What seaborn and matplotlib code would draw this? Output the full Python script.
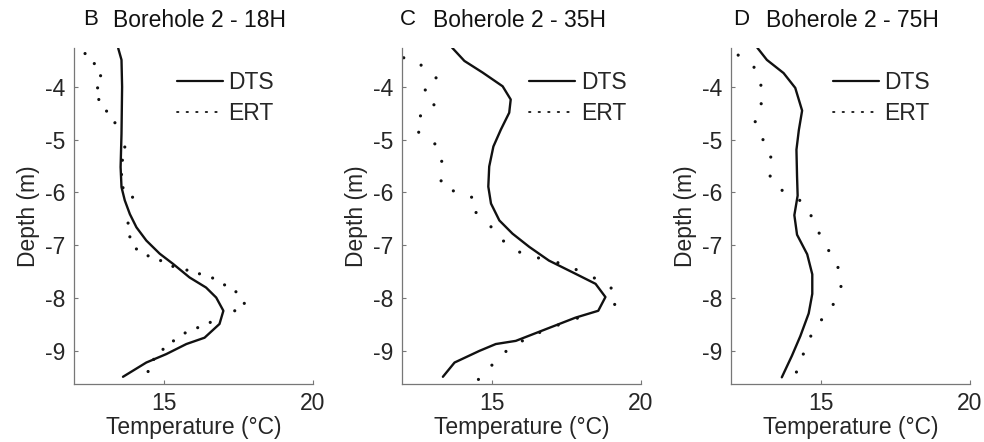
import numpy as np
import pandas as pd
import seaborn as sns
import matplotlib.pyplot as plt
from matplotlib.lines import Line2D

# ---- data (temperature in degC, depth in m) ----
titles = ["Borehole 2 - 18H", "Boherole 2 - 35H", "Boherole 2 - 75H"]
letters = ["B", "C", "D"]

dts_b_temp = [13.48, 13.59, 13.61, 13.59, 13.56, 13.59, 13.70, 13.87, 14.09, 14.42, 14.87,
              15.31, 15.87, 16.42, 16.76, 17.00, 16.87, 16.37, 15.76, 15.09, 14.42, 13.64]
dts_b_depth = [-3.27, -3.49, -4.00, -4.89, -5.52, -5.90, -6.15, -6.41, -6.66, -6.91, -7.16,
               -7.35, -7.61, -7.80, -7.99, -8.24, -8.49, -8.75, -8.87, -9.06, -9.22, -9.49]
ert_b_temp = [12.37, 12.68, 12.89, 12.79, 12.83, 13.09, 13.37, 13.70, 13.62, 13.59, 13.64,
              13.96, 13.81, 13.87, 14.09, 14.48, 14.90, 15.31, 15.78, 16.20, 16.64, 17.04,
              17.42, 17.70, 17.38, 16.56, 16.14, 15.72, 15.33, 14.98, 14.67, 14.48]
ert_b_depth = [-3.37, -3.56, -3.79, -4.02, -4.24, -4.46, -4.68, -5.14, -5.39, -5.66, -5.91,
               -6.09, -6.58, -6.84, -7.07, -7.20, -7.29, -7.40, -7.47, -7.54, -7.62, -7.75,
               -7.88, -8.10, -8.24, -8.46, -8.56, -8.66, -8.81, -8.97, -9.16, -9.39]

dts_c_temp = [13.68, 14.09, 14.70, 15.37, 15.64, 15.59, 15.31, 15.06, 14.92, 14.89, 14.98,
              15.26, 15.70, 16.26, 16.92, 17.81, 18.48, 18.81, 18.57, 17.81, 16.81, 15.81,
              15.14, 14.59, 13.76, 13.37]
dts_c_depth = [-3.26, -3.51, -3.73, -3.99, -4.24, -4.49, -4.81, -5.13, -5.51, -5.89, -6.21,
               -6.53, -6.78, -7.03, -7.29, -7.54, -7.73, -7.98, -8.24, -8.37, -8.59, -8.81,
               -8.87, -9.00, -9.22, -9.49]
ert_c_temp = [12.06, 12.64, 13.14, 12.78, 13.07, 12.62, 12.56, 13.10, 13.33, 13.31, 13.72,
              14.33, 14.48, 14.98, 15.40, 15.94, 16.57, 17.22, 17.83, 18.44, 19.00, 19.12,
              17.87, 17.23, 16.61, 16.03, 15.48, 15.01, 14.56]
ert_c_depth = [-3.45, -3.59, -3.83, -4.06, -4.34, -4.55, -4.86, -5.08, -5.41, -5.78, -5.97,
               -6.09, -6.38, -6.65, -6.92, -7.13, -7.24, -7.33, -7.46, -7.62, -7.81, -8.12,
               -8.38, -8.51, -8.65, -8.81, -9.01, -9.27, -9.54]

dts_d_temp = [12.88, 13.20, 13.76, 14.15, 14.38, 14.27, 14.19, 14.21, 14.23, 14.12, 14.21,
              14.55, 14.72, 14.72, 14.60, 14.32, 14.04, 13.70]
dts_d_depth = [-3.26, -3.49, -3.74, -4.02, -4.45, -4.82, -5.19, -5.69, -6.06, -6.43, -6.80,
               -7.17, -7.55, -7.92, -8.29, -8.72, -9.09, -9.50]
ert_d_temp = [12.24, 12.77, 13.00, 13.01, 12.81, 13.07, 13.33, 13.31, 13.71, 14.30, 14.68,
              14.95, 15.27, 15.58, 15.68, 15.42, 15.03, 14.67, 14.42, 14.19]
ert_d_depth = [-3.40, -3.63, -3.97, -4.32, -4.66, -5.00, -5.33, -5.69, -5.96, -6.15, -6.44,
               -6.77, -7.10, -7.42, -7.78, -8.12, -8.41, -8.72, -9.06, -9.40]

panels = [
    (dts_b_temp, dts_b_depth, ert_b_temp, ert_b_depth),
    (dts_c_temp, dts_c_depth, ert_c_temp, ert_c_depth),
    (dts_d_temp, dts_d_depth, ert_d_temp, ert_d_depth),
]

sns.set_theme(style="white")
plt.rcParams['font.family'] = ['Liberation Sans', 'DejaVu Sans']
fs = 16.5

fig = plt.figure(figsize=(9.84, 4.42), dpi=100)
lefts = [0.0752, 0.4085, 0.7429]
# pixel x positions of letter and title text
letter_px = [83, 400, 733]
title_px = [113, 433, 766]
legend_x = [0.43, 0.533, 0.426]

for i, (dt, dd, et, ed) in enumerate(panels):
    ax = fig.add_axes([lefts[i], 0.132, 0.2429, 0.76])
    dts = pd.DataFrame({"temp": dt, "depth": dd})
    ert = pd.DataFrame({"temp": et, "depth": ed})
    sns.lineplot(data=dts, x="temp", y="depth", sort=False, estimator=None,
                 color="#111111", lw=1.7, ax=ax)
    sns.scatterplot(data=ert, x="temp", y="depth", color="#111111", s=5,
                    edgecolor="none", ax=ax)

    ax.set_xlim(12, 20)
    ax.set_ylim(-9.62, -3.26)
    ax.set_xticks([15, 20])
    ax.set_yticks([-9, -8, -7, -6, -5, -4])
    ax.set_xticklabels(["15", "20"])
    ax.set_yticklabels(["-9", "-8", "-7", "-6", "-5", "-4"])
    ax.tick_params(direction="in", length=3, width=0.8, color="#777777",
                   labelsize=fs, pad=6, left=True, bottom=True)
    for s in ["top", "right"]:
        ax.spines[s].set_visible(False)
    for s in ["left", "bottom"]:
        ax.spines[s].set_color("#777777")
        ax.spines[s].set_linewidth(0.9)
    ax.set_xlabel("Temperature (°C)", fontsize=fs, labelpad=1)
    ax.set_ylabel("Depth (m)", fontsize=fs, labelpad=4)
    ax.set_facecolor("white")

    handles = [Line2D([], [], color="#111111", lw=1.6),
               Line2D([], [], color="#111111", lw=1.3, linestyle=(0, (0.8, 4.5)),
                      dash_capstyle="round")]
    ax.legend(handles, ["DTS", "ERT"], loc="upper left",
              bbox_to_anchor=(legend_x[i], 0.932), frameon=False, fontsize=fs,
              handlelength=2.0, handletextpad=0.25, labelspacing=0.37,
              borderpad=0, borderaxespad=0)

    fig.text(letter_px[i] / 984, 0.943, letters[i], fontsize=16, color="#111111")
    fig.text(title_px[i] / 984, 0.94, titles[i], fontsize=fs, color="#111111")

fig.savefig("out.png", dpi=100, facecolor="white")
